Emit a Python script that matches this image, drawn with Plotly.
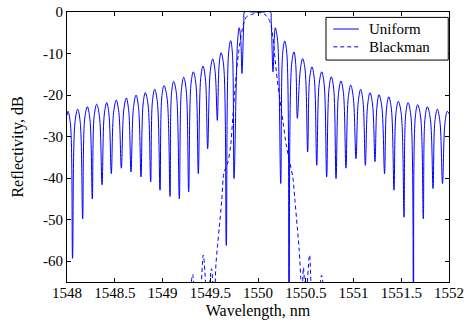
import plotly.graph_objects as go

# Uniform grating reflectivity (dB):
# for every sidelobe its two flanks, its peak, then the null before the next lobe
uniform_wl = [
    1548.000, 1548.010, 1548.036, 1548.058,
    1548.084, 1548.112, 1548.138, 1548.164,
    1548.185, 1548.213, 1548.240, 1548.265,
    1548.284, 1548.311, 1548.340, 1548.367,
    1548.390, 1548.416, 1548.440, 1548.464,
    1548.488, 1548.516, 1548.543, 1548.569,
    1548.594, 1548.621, 1548.646, 1548.670,
    1548.696, 1548.723, 1548.749, 1548.775,
    1548.796, 1548.820, 1548.849, 1548.876,
    1548.894, 1548.918, 1548.946, 1548.974,
    1548.992, 1549.016, 1549.048, 1549.079,
    1549.094, 1549.117, 1549.146, 1549.176,
    1549.198, 1549.222, 1549.248, 1549.274,
    1549.298, 1549.323, 1549.350, 1549.375,
    1549.400, 1549.424, 1549.449, 1549.473,
    1549.500, 1549.526, 1549.551, 1549.574,
    1549.593, 1549.613, 1549.640, 1549.668,
    1549.692, 1549.714, 1549.732, 1549.749,
    1549.787, 1549.804, 1549.820, 1549.832,
    1549.852, 1549.860, 1549.950, 1550.050, 1550.130, 1550.138, 1550.157,
    1550.170, 1550.181, 1550.205, 1550.238,
    1550.258, 1550.280, 1550.302, 1550.325,
    1550.352, 1550.377, 1550.395, 1550.412,
    1550.442, 1550.468, 1550.494, 1550.520,
    1550.540, 1550.565, 1550.590, 1550.615,
    1550.640, 1550.667, 1550.693, 1550.719,
    1550.743, 1550.768, 1550.793, 1550.817,
    1550.843, 1550.869, 1550.895, 1550.921,
    1550.945, 1550.971, 1550.998, 1551.026,
    1551.050, 1551.075, 1551.100, 1551.124,
    1551.148, 1551.173, 1551.200, 1551.225,
    1551.245, 1551.267, 1551.297, 1551.325,
    1551.345, 1551.369, 1551.397, 1551.424,
    1551.444, 1551.469, 1551.500, 1551.529,
    1551.546, 1551.571, 1551.600, 1551.628,
    1551.647, 1551.672, 1551.703, 1551.731,
    1551.748, 1551.773, 1551.805, 1551.833,
    1551.852, 1551.878, 1551.905, 1551.932,
    1551.957, 1551.982, 1552.000,
]
uniform_db = [
    -24.8, -23.9, -26.9, -59.3,
    -26.4, -23.4, -26.4, -49.8,
    -25.8, -22.8, -25.8, -45.0,
    -25.2, -22.2, -25.2, -41.6,
    -24.8, -21.8, -24.8, -38.9,
    -24.2, -21.2, -24.2, -37.6,
    -23.7, -20.7, -23.7, -38.5,
    -23.0, -20.0, -23.0, -39.7,
    -22.4, -19.4, -22.4, -40.9,
    -21.6, -18.6, -21.6, -42.9,
    -20.7, -17.7, -20.7, -44.4,
    -19.7, -16.7, -19.7, -45.0,
    -18.7, -15.7, -18.7, -43.3,
    -17.4, -14.4, -17.4, -38.9,
    -16.0, -13.0, -16.0, -32.9,
    -14.3, -11.3, -14.3, -26.1,
    -12.8, -9.8, -12.8, -56.2,
    -9.9, -6.9, -9.9, -40.1,
    -6.8, -3.8, -6.8, -14.8,
    -2.0, 0.0, 0.0, 0.0, 0.0, -2.0, -14.4,
    -6.8, -3.8, -6.8, -41.3,
    -10.0, -7.0, -10.0, -75.0,
    -12.6, -9.6, -12.6, -25.6,
    -14.2, -11.2, -14.2, -33.7,
    -16.2, -13.2, -16.2, -36.9,
    -17.4, -14.4, -17.4, -39.7,
    -18.6, -15.6, -18.6, -40.1,
    -19.6, -16.6, -19.6, -37.6,
    -20.6, -17.6, -20.6, -35.3,
    -21.6, -18.6, -21.6, -36.9,
    -22.4, -19.4, -22.4, -36.0,
    -22.9, -19.9, -22.9, -38.9,
    -23.4, -20.4, -23.4, -42.9,
    -24.5, -21.5, -24.5, -49.4,
    -24.8, -21.8, -24.8, -75.0,
    -25.3, -22.3, -25.3, -49.8,
    -25.8, -22.8, -25.8, -42.5,
    -26.4, -23.4, -26.4, -41.3,
    -26.9, -23.9, -24.5,
]

# Blackman-apodized grating reflectivity (dB)
blackman_wl = [
    1549.280, 1549.316, 1549.350, 1549.380, 1549.427, 1549.470, 1549.513, 1549.540,
    1549.560, 1549.578, 1549.595, 1549.620, 1549.644, 1549.665, 1549.686, 1549.714,
    1549.738, 1549.773, 1549.795, 1549.846, 1549.882, 1549.934, 1550.003, 1550.073,
    1550.108, 1550.136, 1550.157, 1550.192, 1550.228, 1550.262, 1550.296, 1550.332,
    1550.364, 1550.387, 1550.411, 1550.432, 1550.447, 1550.458, 1550.476, 1550.500,
    1550.540, 1550.580, 1550.620, 1550.665, 1550.700,
]
blackman_db = [
    -70.0, -63.2, -70.0, -70.0, -58.5, -70.0, -61.8, -70.0,
    -60.6, -55.8, -51.8, -45.4, -38.5, -37.5, -36.1, -32.1,
    -24.8, -15.0, -10.0, -3.1, -1.1, -0.6, -0.1, -0.6,
    -1.5, -3.1, -6.3, -14.4, -20.8, -26.5, -32.1, -36.1,
    -39.7, -45.4, -51.8, -57.4, -63.9, -70.0, -61.5, -70.0,
    -58.5, -70.0, -70.0, -63.4, -70.0,
]

series_names = ["Uniform", "Blackman"]
x_ticks = [1548, 1548.5, 1549, 1549.5, 1550, 1550.5, 1551, 1551.5, 1552]
x_tick_text = ["1548", "1548.5", "1549", "1549.5", "1550", "1550.5", "1551", "1551.5", "1552"]
y_ticks = [-60, -50, -40, -30, -20, -10, 0]
y_tick_text = ["-60", "-50", "-40", "-30", "-20", "-10", "0"]

FONT = "Liberation Serif"
BLUE = "#0000ff"
DASH = "4px,3px"

fig = go.Figure()
fig.add_trace(go.Scatter(
    x=uniform_wl, y=uniform_db, mode="lines", name=series_names[0], showlegend=False,
    line=dict(color=BLUE, width=1, shape="spline", smoothing=1.0),
))
fig.add_trace(go.Scatter(
    x=blackman_wl, y=blackman_db, mode="lines", name=series_names[1], showlegend=False,
    line=dict(color=BLUE, width=1, dash=DASH, shape="spline", smoothing=0.8),
))

axis_common = dict(
    showgrid=False, zeroline=False, showline=True, linecolor="black", linewidth=1,
    mirror="ticks", ticks="inside", ticklen=4, tickcolor="black", tickwidth=1,
    tickfont=dict(family=FONT, size=15, color="black"), automargin=False,
)
fig.update_xaxes(
    range=[1548, 1552], tickvals=x_ticks, ticktext=x_tick_text, ticklabelstandoff=-3,
    title=dict(text="Wavelength, nm", font=dict(family=FONT, size=16, color="black")),
    **axis_common,
)
fig.update_yaxes(
    range=[-65, 0], tickvals=y_ticks, ticktext=y_tick_text,
    title=dict(text="Reflectivity, dB", font=dict(family=FONT, size=16, color="black")),
    **axis_common,
)

# legend box drawn in the upper-right corner of the axes (paper coordinates)
legend_box = dict(x0=0.678, x1=0.998, y0=0.822, y1=0.980)
legend_rows = [0.937, 0.871]
legend_line_x = (0.697, 0.764)
legend_text_x = 0.786

shapes = [dict(type="rect", xref="paper", yref="paper", **legend_box,
               line=dict(color="black", width=1), fillcolor="white", layer="above")]
annotations = []
for name, row, dash in zip(series_names, legend_rows, ["solid", DASH]):
    shapes.append(dict(type="line", xref="paper", yref="paper",
                       x0=legend_line_x[0], x1=legend_line_x[1], y0=row, y1=row,
                       line=dict(color=BLUE, width=1, dash=dash), layer="above"))
    annotations.append(dict(text=name, xref="paper", yref="paper", x=legend_text_x, y=row,
                            xanchor="left", yanchor="middle", showarrow=False,
                            font=dict(family=FONT, size=15, color="black")))

fig.update_layout(
    width=468, height=320,
    margin=dict(l=67, r=19, t=12, b=38),
    paper_bgcolor="white", plot_bgcolor="white",
    font=dict(family=FONT, size=15, color="black"),
    shapes=shapes, annotations=annotations,
)
fig.write_html("out.html")
